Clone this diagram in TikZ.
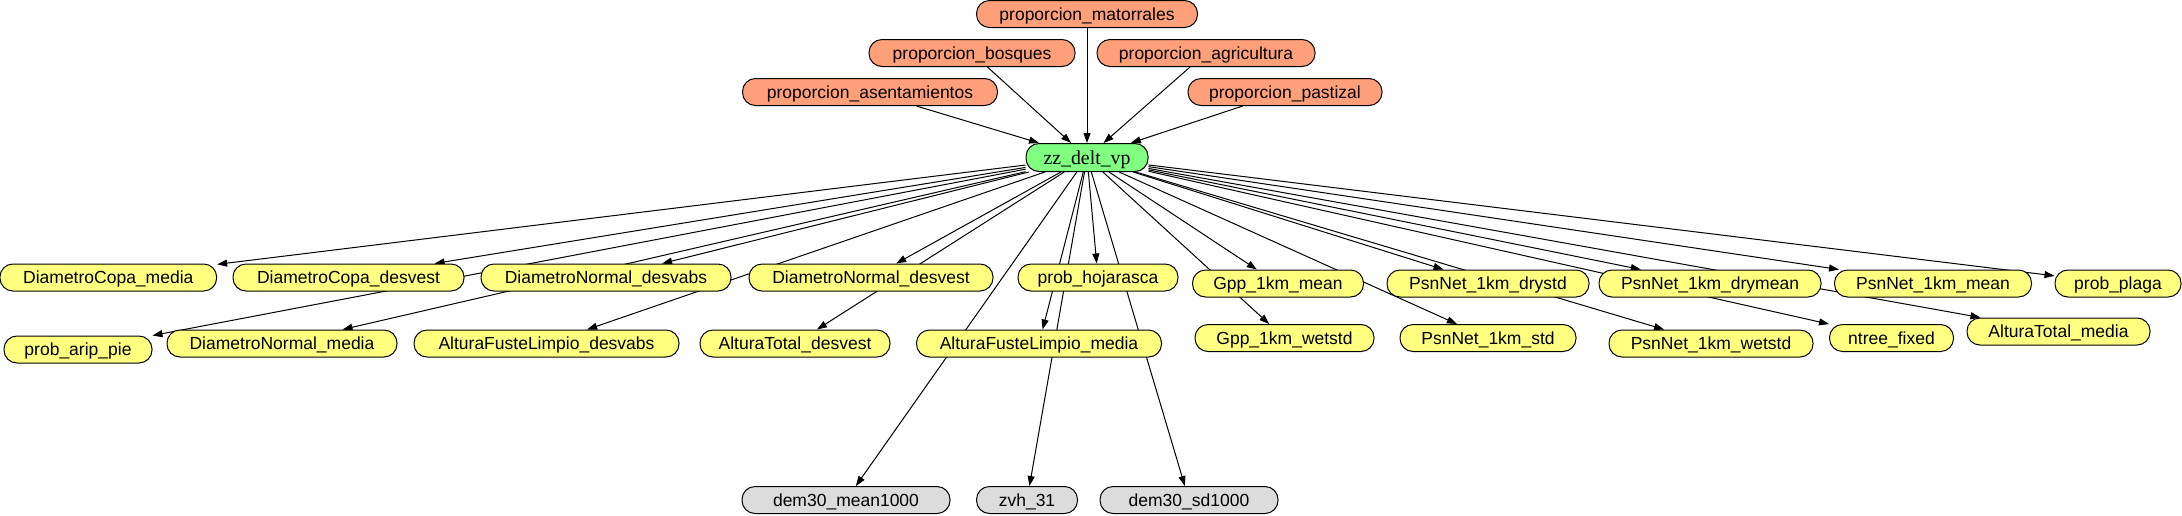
\documentclass[tikz,border=0pt]{standalone}
\usepackage{fontspec}
\setmainfont{Liberation Sans}
\newfontfamily\zzfont{Liberation Serif}
\usetikzlibrary{arrows.meta}
\pgfdeclarelayer{background}
\pgfsetlayers{background,main}
\definecolor{orangec}{HTML}{FFA07A}
\definecolor{yellowc}{HTML}{FFFF80}
\definecolor{greenc}{HTML}{80FF80}
\definecolor{grayc}{HTML}{DCDCDC}
\tikzset{
  gnode/.style={draw=black, line width=1pt, rounded corners=13pt, minimum height=27pt,
    inner xsep=2pt, inner ysep=0pt, text height=12.6pt, text depth=0pt,
    font=\fontsize{17.5}{20}\selectfont},
  obox/.style={gnode, fill=orangec},
  ybox/.style={gnode, fill=yellowc},
  gbox/.style={gnode, fill=grayc},
  zbox/.style={gnode, fill=greenc, minimum height=28pt, text height=13.5pt,
    font=\zzfont\fontsize{19.8}{22}\selectfont},
  conn/.style={line width=1pt, -{Triangle[length=10pt,width=7pt]}}
}
\begin{document}
\begin{tikzpicture}[x=1pt,y=-1pt]
\useasboundingbox (0,0) rectangle (2182,515);
% top
\node[obox, minimum width=221pt] (mat) at (1087,14) {proporcion\_matorrales};
\node[obox, minimum width=206pt] (bos) at (972,53) {proporcion\_bosques};
\node[obox, minimum width=218pt] (agr) at (1206,53) {proporcion\_agricultura};
\node[obox, minimum width=255pt] (ase) at (870,92) {proporcion\_asentamientos};
\node[obox, minimum width=194pt] (pas) at (1285,92) {proporcion\_pastizal};
\node[zbox, minimum width=122pt] (zz) at (1087,157.5) {zz\_delt\_vp};
% row 4
\node[ybox, minimum width=216.7pt] (dcm) at (108.3,277.5) {DiametroCopa\_media};
\node[ybox, minimum width=231pt] (dcd) at (348.5,277.5) {DiametroCopa\_desvest};
\node[ybox, minimum width=250pt] (dnda) at (606,277.5) {DiametroNormal\_desvabs};
\node[ybox, minimum width=244pt] (dnde) at (871,277.5) {DiametroNormal\_desvest};
\node[ybox, minimum width=160pt] (ph) at (1098,277.5) {prob\_hojarasca};
\node[ybox, minimum width=171pt] (gm) at (1278,283.5) {Gpp\_1km\_mean};
\node[ybox, minimum width=202pt] (pdstd) at (1488,283.5) {PsnNet\_1km\_drystd};
\node[ybox, minimum width=222pt] (pdm) at (1710,283.5) {PsnNet\_1km\_drymean};
\node[ybox, minimum width=197pt] (pm) at (1933,283.5) {PsnNet\_1km\_mean};
\node[ybox, minimum width=126pt] (pp) at (2118,283.5) {prob\_plaga};
% row 5
\node[ybox, minimum width=148pt] (pap) at (78,349.5) {prob\_arip\_pie};
\node[ybox, minimum width=230pt] (dnm) at (282,343.5) {DiametroNormal\_media};
\node[ybox, minimum width=265pt] (afld) at (546.5,343.5) {AlturaFusteLimpio\_desvabs};
\node[ybox, minimum width=190pt] (atd) at (795,343.5) {AlturaTotal\_desvest};
\node[ybox, minimum width=245pt] (aflm) at (1039,343.5) {AlturaFusteLimpio\_media};
\node[ybox, minimum width=179pt] (gw) at (1284.5,338) {Gpp\_1km\_wetstd};
\node[ybox, minimum width=176pt] (pstd) at (1488,338) {PsnNet\_1km\_std};
\node[ybox, minimum width=204pt] (pws) at (1711,343.5) {PsnNet\_1km\_wetstd};
\node[ybox, minimum width=124pt] (nf) at (1891.5,338) {ntree\_fixed};
\node[ybox, minimum width=183pt] (atm) at (2058.5,331.5) {AlturaTotal\_media};
% row 6
\node[gbox, minimum width=208pt] (dm) at (846,500) {dem30\_mean1000};
\node[gbox, minimum width=101pt] (zvh) at (1027,500) {zvh\_31};
\node[gbox, minimum width=178pt] (dsd) at (1189,500) {dem30\_sd1000};
\begin{pgfonlayer}{background}
\fill[white] (0,0) rectangle (2182,515);
\foreach \s in {mat,bos,agr,ase,pas}
  \draw[conn] (\s) -- (zz);
\foreach \t in {dcm,dcd,dnda,dnde,ph,gm,pdstd,pdm,pm,pp,pap,dnm,afld,atd,aflm,gw,pstd,pws,nf,atm,dm,zvh,dsd}
  \draw[conn] (zz) -- (\t);
\end{pgfonlayer}
\end{tikzpicture}
\end{document}
